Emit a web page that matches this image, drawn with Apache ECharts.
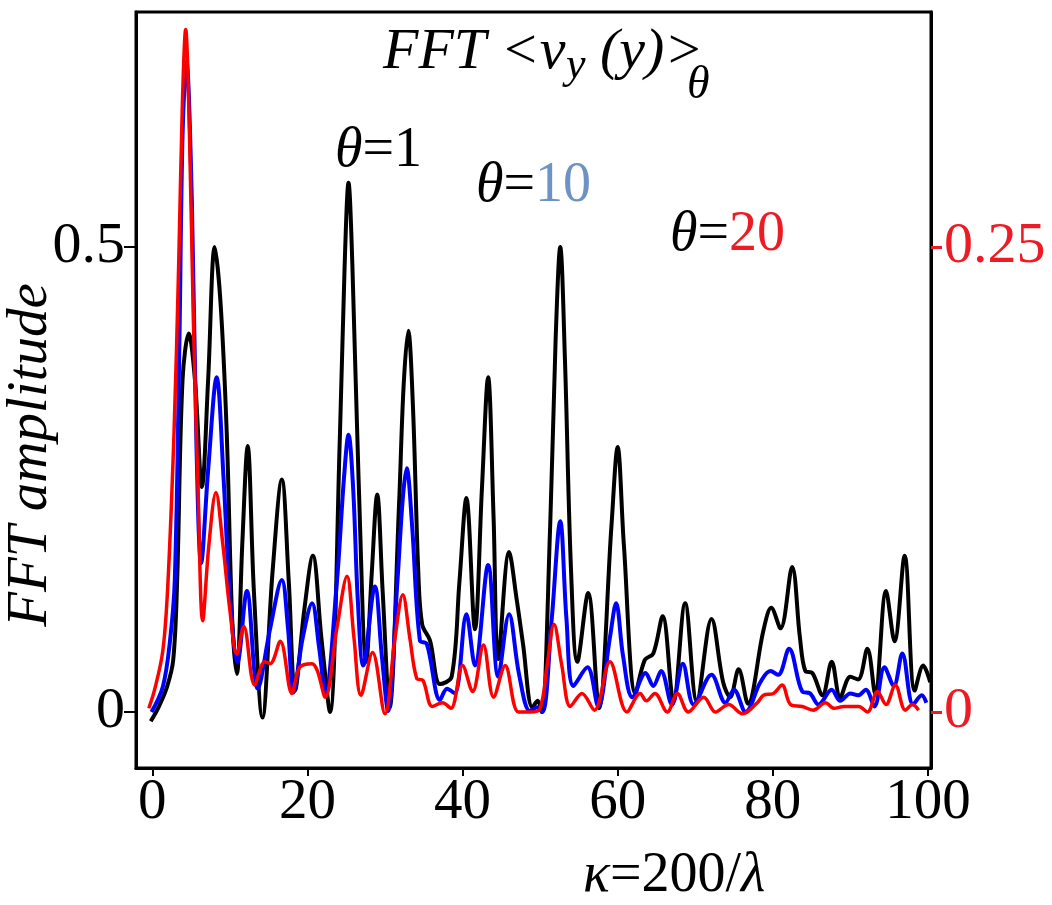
<!DOCTYPE html>
<html>
<head>
<meta charset="utf-8">
<script src="https://cdn.jsdelivr.net/npm/echarts@6/dist/echarts.min.js"></script>
<style>
html,body{margin:0;padding:0;background:#fff;}
#chart{width:1052px;height:905px;}
</style>
</head>
<body>
<div id="chart"></div>
<script>
// ---- data ----
const xTicks = [0, 20, 40, 60, 80, 100];
const leftTicks = [0, 0.5];
const rightTicks = [0, 0.25];

// theta = 1 (black, left axis)
const kappaBlack = [-0.2,0.8,1.9,2.7,3.2,3.9,4.7,5.5,6.4,7.2,8.05,8.8,9.6,10.3,10.9,11.6,12.3,13.1,14.2,15.5,16.7,17.6,18.4,19.6,20.7,21.8,22.9,24.2,24.8,25.3,25.8,26.6,27.6,28.3,29.0,29.7,30.6,31.8,32.4,33.0,33.6,34.3,34.8,35.8,37.1,38.6,39.6,40.5,41.6,42.5,43.3,44.0,44.6,46.0,47.0,47.8,49.0,49.7,50.2,51.3,52.0,52.6,53.2,54.0,54.8,56.2,57.6,59.2,60.0,60.8,62.3,63.5,64.6,65.8,67.2,68.7,70.2,72.1,73.6,74.5,75.6,76.8,78.8,79.8,81.0,82.5,83.5,84.2,85.1,86.4,87.6,88.7,90.0,91.0,92.2,93.2,94.6,95.7,97.0,98.3,99.4,100.3];
const ampBlack = [-0.01,0.005,0.027,0.056,0.14,0.357,0.407,0.357,0.242,0.357,0.50,0.44,0.30,0.10,0.041,0.18,0.286,0.13,-0.006,0.15,0.25,0.14,0.023,0.11,0.168,0.08,0.0,0.30,0.48,0.569,0.48,0.25,0.054,0.15,0.234,0.13,0.005,0.22,0.35,0.41,0.33,0.15,0.094,0.077,0.03,0.038,0.14,0.23,0.089,0.24,0.36,0.21,0.057,0.172,0.12,0.073,0.005,0.012,0.0,0.20,0.40,0.50,0.38,0.15,0.054,0.128,0.004,0.20,0.285,0.18,0.02,0.056,0.063,0.103,0.012,0.117,0.012,0.10,0.032,0.016,0.046,0.009,0.088,0.112,0.09,0.156,0.08,0.044,0.042,0.018,0.054,0.016,0.038,0.035,0.068,0.02,0.13,0.076,0.168,0.023,0.05,0.032];

// theta = 10 (blue, left axis)
const kappaBlue = [-0.1,1.35,2.25,2.9,3.5,3.9,4.4,5.1,5.7,6.3,7.2,8.3,9.2,10.0,11.0,12.2,13.6,15.2,16.7,17.5,18.2,19.4,20.6,21.5,22.3,23.8,24.7,25.3,25.9,26.5,27.2,28.7,29.6,30.4,31.6,32.3,32.8,33.5,34.5,35.4,37.1,38.0,39.0,40.5,41.6,43.3,44.6,46.0,47.3,48.7,49.6,50.3,51.5,52.6,53.4,54.3,56.1,57.5,59.0,59.8,60.7,61.9,63.6,64.6,65.6,67.0,68.4,69.8,72.1,73.9,75.0,76.5,78.4,79.7,80.7,82.1,83.8,84.8,85.9,87.6,88.7,90.0,91.0,92.0,93.1,94.4,95.6,96.7,98.1,99.2,99.8];
const ampBlue = [0.0,0.027,0.074,0.142,0.40,0.62,0.70,0.55,0.285,0.16,0.26,0.36,0.25,0.126,0.054,0.13,0.025,0.09,0.142,0.09,0.021,0.08,0.117,0.07,0.021,0.14,0.25,0.298,0.24,0.12,0.05,0.135,0.06,0.001,0.14,0.23,0.262,0.20,0.077,0.073,0.013,0.025,0.02,0.105,0.05,0.158,0.038,0.105,0.04,0.001,0.005,0.0,0.10,0.205,0.10,0.028,0.048,0.006,0.08,0.117,0.06,0.016,0.042,0.028,0.044,0.008,0.052,0.008,0.04,0.01,0.024,0.0,0.032,0.044,0.04,0.068,0.022,0.02,0.008,0.024,0.012,0.02,0.018,0.024,0.006,0.048,0.028,0.063,0.008,0.018,0.01];

// theta = 20 (red, right axis)
const kappaRed = [-0.45,0.3,1.36,2.0,2.8,3.4,3.9,4.3,4.8,5.3,5.9,6.5,7.3,8.2,9.1,10.0,10.9,11.8,13.2,14.5,15.2,16.5,18.0,19.0,20.6,21.3,22.3,23.8,25.1,26.0,26.9,28.4,30.0,31.3,32.3,33.2,34.1,34.9,36.1,37.4,38.5,40.0,41.3,42.7,44.0,45.5,47.2,48.7,50.0,50.9,51.8,52.8,53.9,55.4,57.0,59.0,61.2,62.9,63.7,64.8,66.4,67.7,69.1,71.1,72.6,74.3,76.1,78.0,78.8,80.1,81.2,82.3,83.8,85.2,86.8,87.9,89.2,91.1,92.2,93.5,94.6,95.8,97.1,98.0,98.8];
const ampRed = [0.002,0.012,0.033,0.068,0.15,0.24,0.33,0.367,0.31,0.21,0.12,0.049,0.09,0.118,0.09,0.055,0.031,0.046,0.0145,0.027,0.026,0.038,0.010,0.024,0.026,0.022,0.008,0.045,0.073,0.04,0.009,0.032,-0.001,0.04,0.063,0.04,0.018,0.017,0.003,0.005,0.002,0.025,0.011,0.036,0.008,0.025,0.0,0.0,0.002,0.025,0.047,0.025,0.003,0.010,0.001,0.027,0.0,0.010,0.006,0.010,0.0,0.010,0.0,0.008,0.0,0.004,-0.001,0.005,0.009,0.010,0.0145,0.004,0.003,0.001,0.005,0.002,0.003,0.003,0.0,0.011,0.004,0.0145,0.001,0.004,0.001];

const zip = (xs, ys) => xs.map((x, i) => [x, ys[i]]);

const SERIF = '"Liberation Serif","DejaVu Serif",serif';
const RED = '#ed1c24';
const F = (px, it) => (it ? 'italic ' : '') + px + 'px ' + SERIF;

const chart = echarts.init(document.getElementById('chart'));
chart.setOption({
  animation: false,
  backgroundColor: '#fff',
  grid: {left: 136, right: 121, top: 12, bottom: 137, show: true, borderColor: '#000', borderWidth: 3, backgroundColor: 'transparent'},
  xAxis: {
    type: 'value', min: -2.1, max: 100.4,
    axisLine: {show: true, onZero: false, lineStyle: {color: '#000', width: 3}},
    axisTick: {show: true, length: 8, lineStyle: {color: '#000', width: 2}, customValues: xTicks},
    axisLabel: {show: true, customValues: xTicks, fontFamily: 'Liberation Serif', fontSize: 57, color: '#000', margin: 7},
    splitLine: {show: false}
  },
  yAxis: [{
    type: 'value', min: -0.0602, max: 0.7527, position: 'left',
    axisLine: {show: true, onZero: false, lineStyle: {color: '#000', width: 3}},
    axisTick: {show: true, length: 12, lineStyle: {color: '#000', width: 2}, customValues: leftTicks},
    axisLabel: {show: true, customValues: leftTicks, fontFamily: 'Liberation Serif', fontSize: 58, color: '#000', margin: 11},
    splitLine: {show: false}
  }, {
    type: 'value', min: -0.0301, max: 0.37635, position: 'right',
    axisLine: {show: true, onZero: false, lineStyle: {color: '#000', width: 3}},
    axisTick: {show: true, length: 11, lineStyle: {color: RED, width: 3}, customValues: rightTicks},
    axisLabel: {show: true, customValues: rightTicks, fontFamily: 'Liberation Serif', fontSize: 58, color: RED, margin: 13},
    splitLine: {show: false}
  }],
  series: [
    {type: 'line', name: 'theta=1', yAxisIndex: 0, data: zip(kappaBlack, ampBlack), showSymbol: false, smooth: 0.35,
     lineStyle: {color: '#000', width: 4}, z: 2},
    {type: 'line', name: 'theta=10', yAxisIndex: 0, data: zip(kappaBlue, ampBlue), showSymbol: false, smooth: 0.35,
     lineStyle: {color: '#0000ff', width: 4}, z: 3},
    {type: 'line', name: 'theta=20', yAxisIndex: 1, data: zip(kappaRed, ampRed), showSymbol: false, smooth: 0.35,
     lineStyle: {color: '#ff0000', width: 3.5}, z: 4}
  ],
  graphic: [
    {type: 'text', x: 383, y: 53, style: {text: 'FFT <v', font: F(58, true), fill: '#000', verticalAlign: 'middle'}},
    {type: 'text', x: 566, y: 66, style: {text: 'y', font: F(44, true), fill: '#000', verticalAlign: 'middle'}},
    {type: 'text', x: 600, y: 53, style: {text: '(y)>', font: F(58, true), fill: '#000', verticalAlign: 'middle'}},
    {type: 'text', x: 687, y: 86, style: {text: 'θ', font: F(46, true), fill: '#000', verticalAlign: 'middle'}},

    {type: 'text', x: 335, y: 151, style: {text: '{t|θ}{e|=1}', verticalAlign: 'middle',
      rich: {t: {font: F(56, true), fill: '#000'}, e: {font: F(56, false), fill: '#000'}}}},
    {type: 'text', x: 476, y: 186, style: {text: '{t|θ}{e|=}{n|10}', verticalAlign: 'middle',
      rich: {t: {font: F(56, true), fill: '#000'}, e: {font: F(56, false), fill: '#000'},
             n: {font: F(56, false), fill: '#6c93c4'}}}},
    {type: 'text', x: 670, y: 235, style: {text: '{t|θ}{e|=}{n|20}', verticalAlign: 'middle',
      rich: {t: {font: F(56, true), fill: '#000'}, e: {font: F(56, false), fill: '#000'},
             n: {font: F(56, false), fill: RED}}}},

    {type: 'text', x: 583, y: 876, style: {text: '{i|κ}{r|=200/}{i|λ}', verticalAlign: 'middle',
      rich: {i: {font: F(56, true), fill: '#000'}, r: {font: F(56, false), fill: '#000'}}}},
    {type: 'text', x: 31, y: 455, rotation: Math.PI / 2,
      style: {text: 'FFT amplitude', font: F(57, true), fill: '#000', align: 'center', verticalAlign: 'middle'}}
  ]
});
</script>
</body>
</html>
